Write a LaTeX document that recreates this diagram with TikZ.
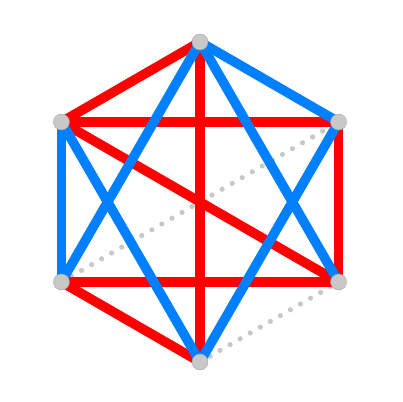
\documentclass[tikz,border=0pt]{standalone}
\usepackage{xcolor}
\usepackage{tikz}
\usetikzlibrary{backgrounds}
\definecolor{edgered}{RGB}{255,0,0}
\definecolor{edgeblue}{RGB}{0,128,255}
\definecolor{vertgray}{RGB}{200,200,200}
\tikzset{
	vertex/.style={circle, fill=vertgray, draw=gray!70, line width=0.3pt, minimum size=0.4cm, inner sep=0pt},
	rededge/.style={draw=edgered, line width=0.24cm},
	blueedge/.style={draw=edgeblue, line width=0.24cm},
	dotedge/.style={draw=vertgray, line width=0.13cm, line cap=round, dash pattern=on 0pt off 0.29cm}
}
\begin{document}
\begin{tikzpicture}
	\useasboundingbox (-5,-5) rectangle (5.05,5.05);
	
	%% -- The six vertices of the hexagon
	\node[vertex] (vt) at (90:4) {};
	\node[vertex] (vur) at (30:4) {};
	\node[vertex] (vlr) at (-30:4) {};
	\node[vertex] (vb) at (-90:4) {};
	\node[vertex] (vll) at (210:4) {};
	\node[vertex] (vul) at (150:4) {};
	
	\begin{scope}[on background layer]
		%% -- Missing edges (dotted)
		\draw[dotedge] (vll.center) -- (vur.center);
		\draw[dotedge] (vb.center) -- (vlr.center);
		
		%% -- Red edges
		\foreach \a/\b in {vt/vul, vul/vur, vt/vb, vul/vlr, vur/vlr, vll/vlr, vll/vb}
		\draw[rededge] (\a.center) -- (\b.center);
		
		%% -- Blue edges
		\foreach \a/\b in {vt/vur, vt/vll, vt/vlr, vul/vll, vul/vb, vur/vb}
		\draw[blueedge] (\a.center) -- (\b.center);
	\end{scope}
	
\end{tikzpicture}
\end{document}
